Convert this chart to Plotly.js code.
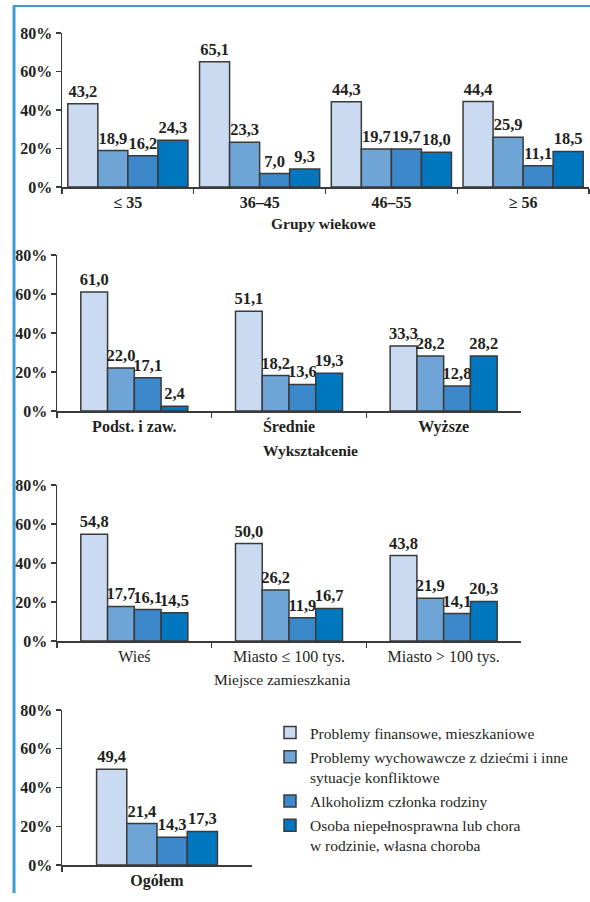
<!DOCTYPE html>
<html>
<head>
<meta charset="utf-8">
<script src="https://cdn.plot.ly/plotly-3.0.1.min.js"></script>
<style>
  html, body { margin: 0; padding: 0; background: #ffffff; }
  #chart { width: 590px; height: 902px; }
</style>
</head>
<body>
<div id="chart"></div>
<script>
// Problem types (legend entries)
const seriesNames = [
  'Problemy finansowe, mieszkaniowe',
  'Problemy wychowawcze z dziećmi i inne<br>sytuacje konfliktowe',
  'Alkoholizm członka rodziny',
  'Osoba niepełnosprawna lub chora<br>w rodzinie, własna choroba'
];
const seriesColors = ['#cadaf0', '#6fa4d7', '#3d88ca', '#0077bf'];

// Grupy wiekowe
const ageGroups = ['≤ 35', '36–45', '46–55', '≥ 56'];
const ageFinancial = [43.2, 65.1, 44.3, 44.4];
const ageUpbringing = [18.9, 23.3, 19.7, 25.9];
const ageAlcohol = [16.2, 7.0, 19.7, 11.1];
const ageIllness = [24.3, 9.3, 18.0, 18.5];

// Wykształcenie
const education = ['Podst. i zaw.', 'Średnie', 'Wyższe'];
const eduFinancial = [61.0, 51.1, 33.3];
const eduUpbringing = [22.0, 18.2, 28.2];
const eduAlcohol = [17.1, 13.6, 12.8];
const eduIllness = [2.4, 19.3, 28.2];

// Miejsce zamieszkania
const residence = ['Wieś', 'Miasto ≤ 100 tys.', 'Miasto > 100 tys.'];
const resFinancial = [54.8, 50.0, 43.8];
const resUpbringing = [17.7, 26.2, 21.9];
const resAlcohol = [16.1, 11.9, 14.1];
const resIllness = [14.5, 16.7, 20.3];

// Ogółem
const total = ['Ogółem'];
const totFinancial = [49.4];
const totUpbringing = [21.4];
const totAlcohol = [14.3];
const totIllness = [17.3];

// Percentage axis
const yTicks = [0, 20, 40, 60, 80];
const yTickLabels = ['0%', '20%', '40%', '60%', '80%'];

const FONT = 'Liberation Serif';
const INK = '#231f20';
const AXIS = '#3a3a3a';

const panels = [
  { cats: ageGroups, values: [ageFinancial, ageUpbringing, ageAlcohol, ageIllness],
    barWidth: 0.228, boldCats: true, legend: false },
  { cats: education, values: [eduFinancial, eduUpbringing, eduAlcohol, eduIllness],
    barWidth: 0.173, boldCats: true, legend: false },
  { cats: residence, values: [resFinancial, resUpbringing, resAlcohol, resIllness],
    barWidth: 0.173, boldCats: false, legend: false },
  { cats: total, values: [totFinancial, totUpbringing, totAlcohol, totIllness],
    barWidth: 0.159, boldCats: true, legend: true }
];

// Pixel layout of the figure, converted to paper fractions below
const W = 590, H = 902;
const boxes = [
  { x0: 62, x1: 589, yTop: 33, yBot: 187 },
  { x0: 57, x1: 521, yTop: 255, yBot: 411 },
  { x0: 57, x1: 521, yTop: 485, yBot: 641 },
  { x0: 62, x1: 252, yTop: 710, yBot: 865 }
];

const traces = [];
const layout = {
  width: W, height: H,
  margin: { l: 0, r: 0, t: 0, b: 0 },
  paper_bgcolor: '#ffffff',
  plot_bgcolor: '#ffffff',
  separators: ', ',
  barmode: 'overlay',
  showlegend: true,
  font: { family: FONT, color: INK, size: 15 },
  legend: {
    x: 270 / W, y: 1 - 716 / H, xanchor: 'left', yanchor: 'top',
    font: { family: FONT, size: 15.5, color: INK },
    valign: 'top',
    tracegroupgap: 1,
    bgcolor: 'rgba(0,0,0,0)',
    borderwidth: 0
  },
  // Blue frame along the left and top edges of the page
  shapes: [
    { type: 'line', xref: 'paper', yref: 'paper', layer: 'below',
      x0: 14 / W, x1: 14 / W, y0: 1 - 6 / H, y1: 1 - 893 / H,
      line: { color: '#3d9ad8', width: 3 } },
    { type: 'line', xref: 'paper', yref: 'paper', layer: 'below',
      x0: 13 / W, x1: 1, y0: 1 - 6 / H, y1: 1 - 6 / H,
      line: { color: '#3d9ad8', width: 2 } }
  ],
  annotations: [
    { text: '<b>Grupy wiekowe</b>', x: 323 / W, y: 1 - 224 / H },
    { text: '<b>Wykształcenie</b>', x: 310 / W, y: 1 - 450 / H },
    { text: 'Miejsce zamieszkania', x: 282 / W, y: 1 - 679 / H }
  ].map(a => Object.assign({
    xref: 'paper', yref: 'paper', showarrow: false,
    xanchor: 'center', yanchor: 'middle',
    font: { family: FONT, size: 15.5, color: INK }
  }, a))
};

panels.forEach((p, k) => {
  const idx = k === 0 ? '' : String(k + 1);
  const xa = 'x' + idx, ya = 'y' + idx;
  const b = boxes[k];

  p.values.forEach((vals, i) => {
    traces.push({
      type: 'bar',
      x: p.cats,
      y: vals,
      xaxis: xa, yaxis: ya,
      name: seriesNames[i],
      legendgroup: 'g' + i,
      showlegend: p.legend,
      width: p.barWidth,
      offset: -2 * p.barWidth + i * p.barWidth,
      marker: { color: seriesColors[i], line: { color: AXIS, width: 1.5 } },
      texttemplate: '%{y:.1f}',
      textposition: 'outside',
      constraintext: 'none',
      cliponaxis: false,
      textfont: { family: FONT, size: 16.5, color: INK, weight: 'bold' },
      hoverinfo: 'skip'
    });
  });

  layout['xaxis' + idx] = {
    domain: [b.x0 / W, b.x1 / W],
    anchor: ya,
    type: 'category',
    range: [-0.5, p.cats.length - 0.5],
    tickson: 'boundaries',
    ticks: 'outside', ticklen: 5, tickwidth: 1.2, tickcolor: AXIS,
    showline: true, linecolor: AXIS, linewidth: 1.5,
    showgrid: false, zeroline: false,
    tickfont: { family: FONT, size: 16, color: INK, weight: p.boldCats ? 'bold' : 'normal' },
    fixedrange: true
  };
  layout['yaxis' + idx] = {
    domain: [1 - b.yBot / H, 1 - b.yTop / H],
    anchor: xa,
    range: [0, 80],
    tickmode: 'array',
    tickvals: yTicks,
    ticktext: yTickLabels,
    ticks: 'outside', ticklen: 5, tickwidth: 1.2, tickcolor: AXIS,
    showline: true, linecolor: AXIS, linewidth: 1.5,
    showgrid: false, zeroline: false,
    tickfont: { family: FONT, size: 16, color: INK, weight: 'bold' },
    fixedrange: true
  };
});

Plotly.newPlot('chart', traces, layout, { displayModeBar: false, staticPlot: true });
</script>
</body>
</html>
